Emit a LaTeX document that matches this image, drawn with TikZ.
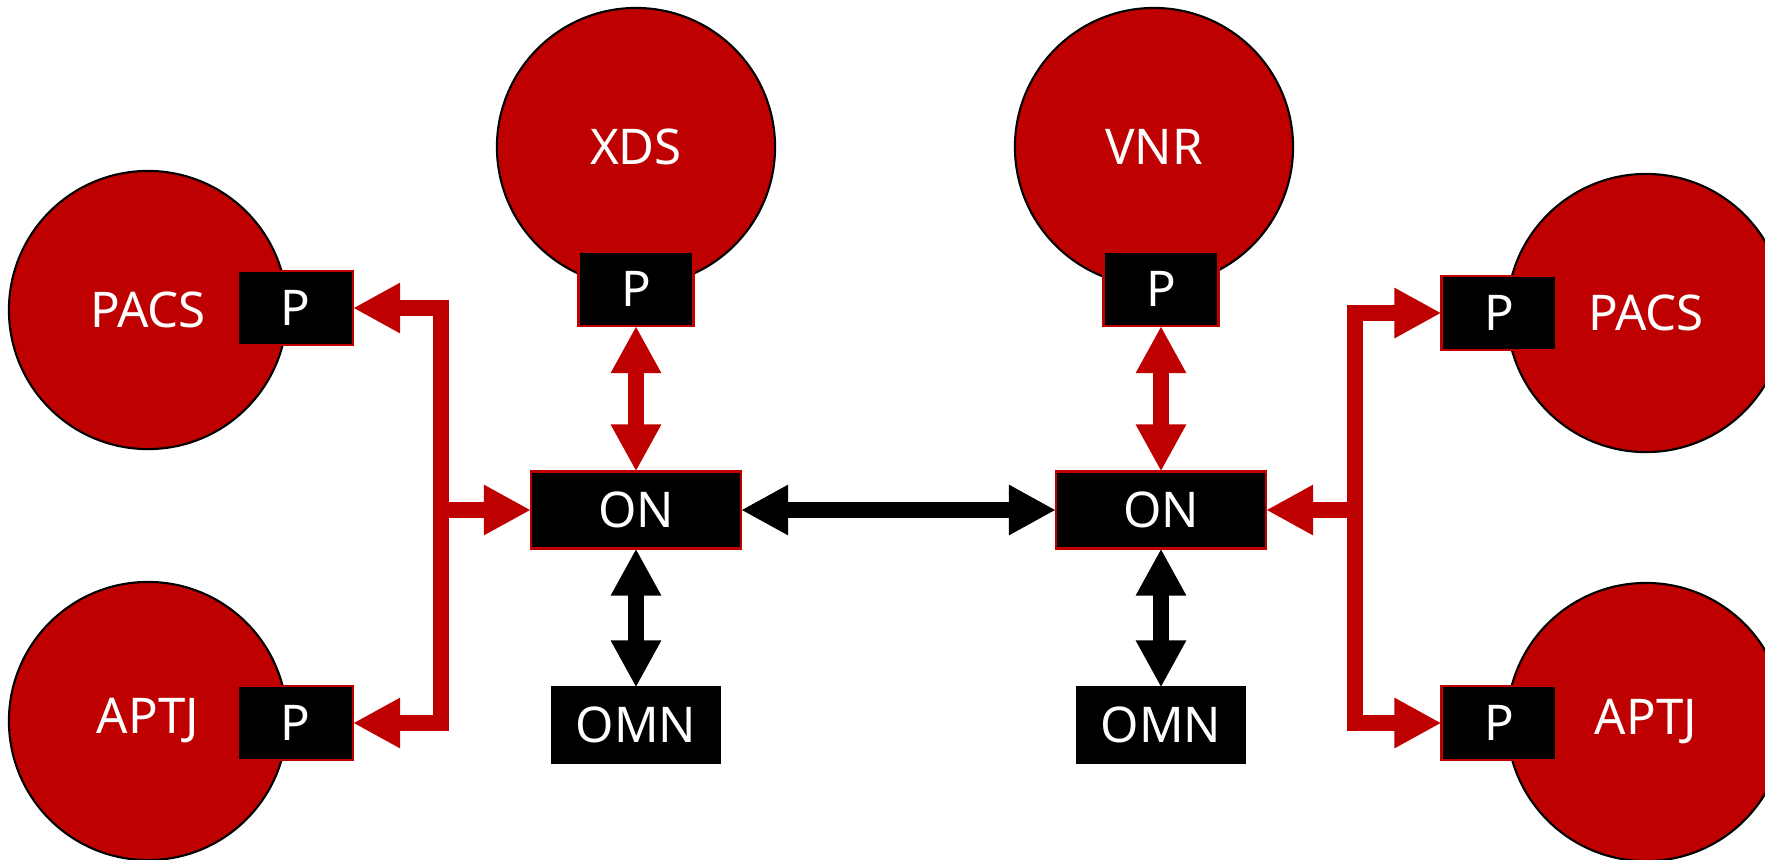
\documentclass[tikz,border=0pt]{standalone}
\usepackage{fontspec}
\setmainfont{Noto Sans}
\usetikzlibrary{arrows.meta}
\definecolor{dred}{RGB}{190,0,0}
\begin{document}
\begin{tikzpicture}[x=0.01cm,y=-0.01cm,
  txt/.style={text=white, font=\fontsize{14}{16}\selectfont},
  sys/.style={circle, fill=dred, draw=black, line width=0.6pt, minimum size=2.78cm, inner sep=0pt, txt},
  pbox/.style={rectangle, fill=black, draw=dred, line width=0.6pt, minimum width=1.15cm, minimum height=0.74cm, inner sep=0pt, outer sep=0pt, txt},
  onbox/.style={pbox, minimum width=2.1cm, minimum height=0.77cm},
  omnbox/.style={pbox, draw=black, minimum width=1.68cm, minimum height=0.75cm},
  conn/.style={line width=0.16cm, >={Triangle[length=0.47cm,width=0.47cm]}},
  redconn/.style={conn, draw=dred},
  blkconn/.style={conn, draw=black}]
\path[use as bounding box] (0,0) rectangle (1765,859);
% circles
\node[sys] (lpacs) at (148,310) {PACS};
\node[sys] (laptj) at (148,721) {APTJ};
\node[sys] (xds) at (636,147) {XDS};
\node[sys] (vnr) at (1154,147) {VNR};
\node[sys] (rpacs) at (1646,313) {PACS};
\node[sys] (raptj) at (1646,722) {APTJ};
% P boxes
\node[pbox] (lpacsP) at (295.5,308) {P};
\node[pbox] (laptjP) at (295.5,723) {P};
\node[pbox] (xdsP) at (636,289) {P};
\node[pbox] (vnrP) at (1161,289) {P};
\node[pbox] (rpacsP) at (1499,313) {P};
\node[pbox] (raptjP) at (1499,723) {P};
% ON / OMN
\node[onbox] (lon) at (636,510) {ON};
\node[onbox] (ron) at (1161,510) {ON};
\node[omnbox] (lomn) at (636,725) {OMN};
\node[omnbox] (romn) at (1161,725) {OMN};
% bus coordinates
\coordinate (busL) at (441,510);
\coordinate (busR) at (1355,510);
% left bus
\draw[redconn,<->] (lpacsP.east) -- (busL |- lpacsP.east) -- (busL |- laptjP.east) -- (laptjP.east);
\draw[redconn,->] (busL |- lon.west) -- (lon.west);
% right bus
\draw[redconn,<->] (rpacsP.west) -- (busR |- rpacsP.west) -- (busR |- raptjP.west) -- (raptjP.west);
\draw[redconn,->] (busR |- ron.east) -- (ron.east);
% vertical links
\draw[redconn,<->] (xdsP.south) -- (lon.north);
\draw[redconn,<->] (vnrP.south) -- (ron.north);
\draw[blkconn,<->] (lon.south) -- (lomn.north);
\draw[blkconn,<->] (ron.south) -- (romn.north);
% ON to ON
\draw[blkconn,<->] (lon.east) -- (ron.west);
\end{tikzpicture}
\end{document}
